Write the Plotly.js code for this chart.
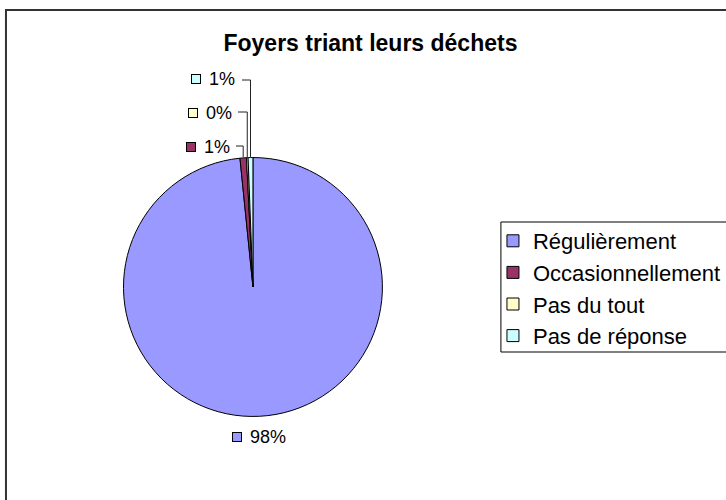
<!DOCTYPE html>
<html>
<head>
<meta charset="utf-8">
<script src="https://cdn.plot.ly/plotly-3.0.1.min.js"></script>
<style>html,body{margin:0;padding:0;background:#fff;}#chart{width:726px;height:500px;}</style>
</head>
<body>
<div id="chart"></div>
<script>
// Data
const categories = ["Régulièrement", "Occasionnellement", "Pas du tout", "Pas de réponse"];
const values = [98.4, 0.8, 0.2, 0.6];
const colors = ["#9999FF", "#993366", "#FFFFCC", "#CCFFFF"];

const W = 726, H = 500;
const px = x => x / W;
const py = y => 1 - y / H;
const FONT = "Liberation Sans, Arial, sans-serif";

// pie geometry (pixels)
const cx = 254, cy = 287, R = 130;

const total = values.reduce((a, b) => a + b, 0);
const pctText = values.map(v => Math.round(v / total * 100) + "%");

// mid angles (clockwise from 12 o'clock)
let cum = 0;
const mids = values.map(v => { const m = (cum + v / 2) / total * 2 * Math.PI; cum += v; return m; });

// label placement (layout only)
const labelPos = [
  {kx: 238, ky: 437, tx: 249, lineY: null},
  {kx: 192, ky: 147, tx: 203, lineY: 146, hx: 237},
  {kx: 194, ky: 113, tx: 205, lineY: 112, hx: 239},
  {kx: 197, ky: 79, tx: 208, lineY: 80, hx: 243}
];

const annotations = [];
const shapes = [];
categories.forEach((c, i) => {
  const p = labelPos[i];
  annotations.push({
    xref: "paper", yref: "paper", x: px(p.kx), y: py(p.ky), xanchor: "center", yanchor: "middle",
    text: "", width: 8, height: 8, bgcolor: colors[i], bordercolor: "#000", borderwidth: 1, borderpad: 0, showarrow: false
  });
  annotations.push({
    xref: "paper", yref: "paper", x: px(p.tx), y: py(p.ky), xanchor: "left", yanchor: "middle",
    text: pctText[i], showarrow: false, font: {family: FONT, size: 18, color: "#000"}
  });
  if (p.lineY !== null) {
    const ax = cx + R * Math.sin(mids[i]);
    const ay = cy - R * Math.cos(mids[i]);
    shapes.push({
      type: "path", xref: "paper", yref: "paper",
      path: `M${px(p.hx)},${py(p.lineY)} L${px(ax)},${py(p.lineY)} L${px(ax)},${py(ay)}`,
      line: {color: "#222", width: 1}
    });
  }
});

// chart border
shapes.push({type: "rect", xref: "paper", yref: "paper", x0: px(6), y0: py(10), x1: px(740), y1: py(520),
  line: {color: "#333", width: 2}, fillcolor: "rgba(0,0,0,0)", layer: "below"});
// legend frame
shapes.push({type: "rect", xref: "paper", yref: "paper", x0: px(503), y0: py(222), x1: px(740), y1: py(352),
  line: {color: "#000", width: 1}, fillcolor: "#fff", layer: "below"});

const trace = {
  type: "pie",
  labels: categories,
  values: values,
  sort: false,
  direction: "clockwise",
  rotation: 0,
  textinfo: "none",
  hoverinfo: "label+percent",
  marker: {colors: colors, line: {color: "#000", width: 1}},
  domain: {x: [px(124), px(384)], y: [py(417), py(157)]}
};

const layout = {
  width: W, height: H,
  margin: {l: 0, r: 0, t: 0, b: 0},
  paper_bgcolor: "#fff",
  font: {family: FONT, color: "#000"},
  title: {text: "<b>Foyers triant leurs déchets</b>", x: px(372), xanchor: "center", xref: "paper",
          y: py(43), yanchor: "middle", yref: "paper",
          font: {family: FONT, size: 23, color: "#000"}},
  showlegend: true,
  legend: {x: px(495), y: py(220), xanchor: "left", yanchor: "top", xref: "paper", yref: "paper",
           borderwidth: 0, bgcolor: "rgba(0,0,0,0)",
           font: {family: FONT, size: 22, color: "#000"}},
  annotations: annotations,
  shapes: shapes
};

Plotly.newPlot("chart", [trace], layout, {displayModeBar: false, staticPlot: true});
</script>
</body>
</html>
